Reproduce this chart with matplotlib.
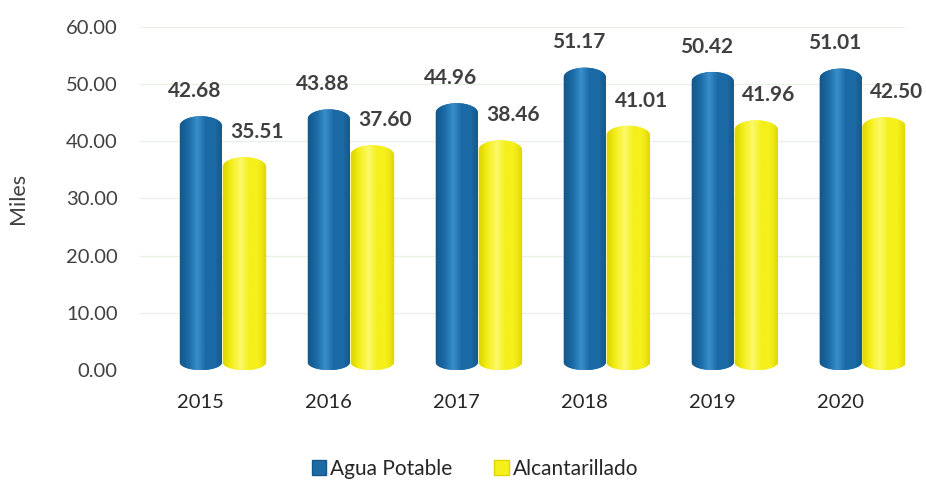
import numpy as np
import matplotlib.pyplot as plt
from matplotlib.colors import LinearSegmentedColormap
from matplotlib.patches import Polygon, Patch

plt.rcParams['font.family'] = ['Lato', 'DejaVu Sans']

# Data
years = ['2015', '2016', '2017', '2018', '2019', '2020']
agua_potable = [42.68, 43.88, 44.96, 51.17, 50.42, 51.01]
alcantarillado = [35.51, 37.60, 38.46, 41.01, 41.96, 42.50]
yticks = [0, 10, 20, 30, 40, 50, 60]

blue = ('#14578a', '#1b6aa6', '#3a8fcc')     # dark, base, light
yellow = ('#ddd400', '#f5f01c', '#fcf86a')

fig = plt.figure(figsize=(9.26, 4.8), dpi=100)
ax = fig.add_axes([0.151, 0.229, 0.826, 0.715])

grad = np.linspace(0, 1, 200).reshape(1, -1)


def cylinder(x, h, w, cols, ry=1.7):
    dark, base, light = cols
    cmap = LinearSegmentedColormap.from_list('cyl', [dark, base, light, base, base, dark])
    t = np.linspace(np.pi, 0, 40)
    top = np.column_stack([x + w / 2 * np.cos(t), h + ry * np.sin(t)])
    tb = np.linspace(0, -np.pi, 40)
    bot = np.column_stack([x + w / 2 * np.cos(tb), ry * 0.8 + ry * 0.8 * np.sin(tb)])
    pts = np.vstack([top, bot])
    poly = Polygon(pts, closed=True, facecolor=base, edgecolor='none', zorder=2)
    ax.add_patch(poly)
    im = ax.imshow(grad, extent=[x - w / 2, x + w / 2, 0, h + ry], aspect='auto',
                   cmap=cmap, zorder=3, interpolation='bilinear')
    im.set_clip_path(poly)


w = 0.33
off = 0.34
for i in range(len(years)):
    cylinder(i, agua_potable[i], w, blue)
    cylinder(i + off, alcantarillado[i], w * 1.03, yellow)
    ax.annotate(f'{agua_potable[i]:.2f}', (i - 0.05, agua_potable[i]), xytext=(0, 18),
                textcoords='offset points', ha='center', va='bottom',
                fontsize=15, fontweight='bold', color='#404040')
    ax.annotate(f'{alcantarillado[i]:.2f}', (i + off + 0.1, alcantarillado[i]), xytext=(0, 18),
                textcoords='offset points', ha='center', va='bottom',
                fontsize=15, fontweight='bold', color='#404040')

ax.set_xlim(-0.477, 5.5)
ax.set_ylim(0, 60)
ax.set_yticks(yticks)
ax.set_yticklabels([f'{v:.2f}' for v in yticks])
ax.set_xticks(range(len(years)))
ax.set_xticklabels(years)
ax.tick_params(axis='y', length=0, pad=16, labelsize=14.5, labelcolor='#404040')
ax.tick_params(axis='x', length=0, pad=17, labelsize=14.5, labelcolor='#262626')
for v in yticks[1:]:
    ax.axhline(v, color='#e9f0e7', lw=0.9, zorder=0)
for s in ax.spines.values():
    s.set_visible(False)

ax.set_ylabel('Miles', fontsize=15.5, color='#404040', labelpad=27)

handles = [Patch(facecolor=blue[1], edgecolor=blue[0], label='Agua Potable'),
           Patch(facecolor=yellow[1], edgecolor=yellow[0], label='Alcantarillado')]
fig.legend(handles=handles, loc='lower center', bbox_to_anchor=(0.513, -0.037), ncol=2,
           frameon=False, fontsize=15, handlelength=0.7, handleheight=0.7,
           handletextpad=0.2, columnspacing=2.0, labelcolor='#262626')

fig.savefig('out.png', dpi=100)
